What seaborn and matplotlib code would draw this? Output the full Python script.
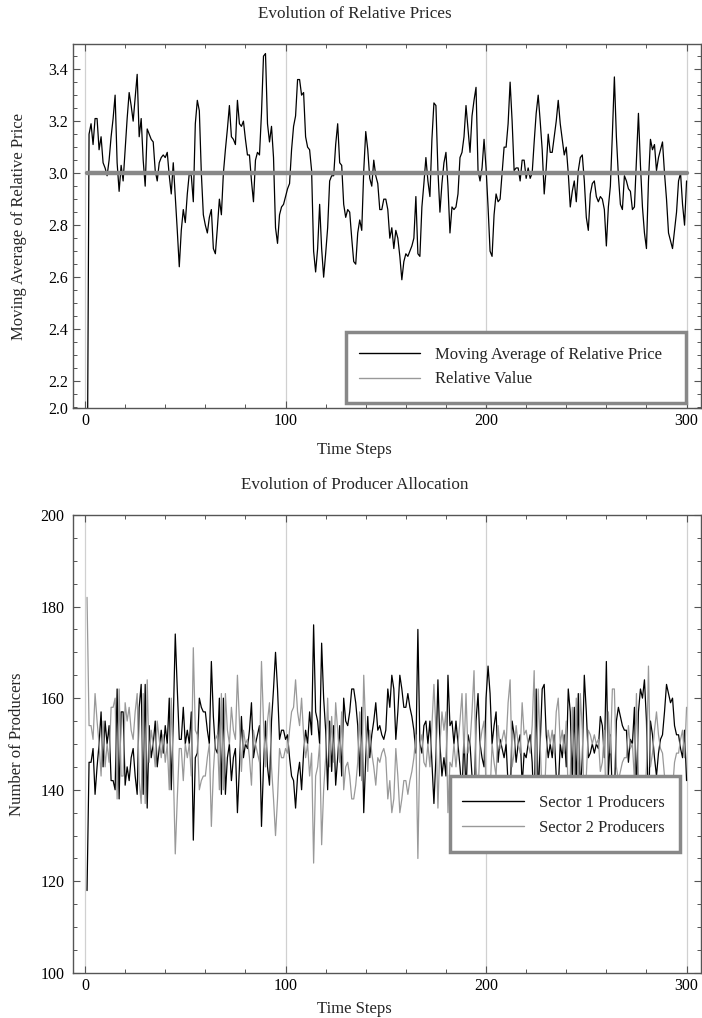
import numpy as np
import pandas as pd
import seaborn as sns
import matplotlib.pyplot as plt
from matplotlib.lines import Line2D
from matplotlib.patches import Rectangle
from matplotlib.ticker import MultipleLocator

# moving average of relative price, time steps 1..300
price = [1.60, 3.15, 3.19, 3.11, 3.21, 3.21, 3.09, 3.14, 3.04, 3.02,
         2.99, 3.05, 3.14, 3.21, 3.30, 3.04, 2.93, 3.03, 2.97, 3.09,
         3.21, 3.31, 3.26, 3.20, 3.29, 3.38, 3.14, 3.21, 3.05, 2.95,
         3.17, 3.15, 3.13, 3.12, 3.01, 2.97, 3.04, 3.06, 3.07, 3.06,
         3.08, 2.99, 2.92, 3.04, 2.91, 2.78, 2.64, 2.78, 2.86, 2.81,
         2.92, 3.00, 2.99, 2.89, 3.19, 3.28, 3.24, 3.00, 2.84, 2.80,
         2.77, 2.83, 2.86, 2.71, 2.69, 2.79, 2.90, 2.84, 3.00, 3.09,
         3.17, 3.26, 3.14, 3.13, 3.11, 3.28, 3.19, 3.18, 3.20, 3.13,
         3.07, 3.07, 2.97, 2.89, 3.05, 3.08, 3.07, 3.23, 3.45, 3.46,
         3.19, 3.12, 3.18, 3.06, 2.79, 2.73, 2.84, 2.87, 2.88, 2.91,
         2.94, 2.96, 3.09, 3.18, 3.22, 3.36, 3.36, 3.30, 3.31, 3.14,
         3.10, 3.09, 3.01, 2.70, 2.62, 2.71, 2.88, 2.71, 2.60, 2.69,
         2.79, 2.97, 2.99, 2.99, 3.11, 3.19, 3.04, 3.03, 2.88, 2.83,
         2.86, 2.85, 2.75, 2.66, 2.65, 2.77, 2.82, 2.78, 3.01, 3.16,
         3.09, 2.98, 2.95, 3.05, 2.99, 2.96, 2.86, 2.86, 2.90, 2.90,
         2.86, 2.75, 2.79, 2.71, 2.78, 2.75, 2.68, 2.59, 2.66, 2.69,
         2.68, 2.70, 2.72, 2.75, 2.91, 2.69, 2.68, 2.87, 2.96, 3.06,
         2.97, 2.91, 3.13, 3.27, 3.26, 3.01, 2.85, 2.96, 3.04, 3.08,
         2.95, 2.77, 2.87, 2.86, 2.87, 2.92, 3.06, 3.08, 3.14, 3.26,
         3.17, 3.08, 3.22, 3.28, 3.33, 3.01, 2.97, 3.02, 3.13, 3.02,
         2.87, 2.70, 2.68, 2.84, 2.92, 2.89, 2.90, 3.00, 3.10, 3.10,
         3.19, 3.35, 3.20, 3.01, 3.02, 3.02, 2.97, 3.05, 3.05, 2.98,
         3.02, 2.98, 3.00, 3.12, 3.23, 3.30, 3.20, 3.09, 2.92, 3.02,
         3.15, 3.08, 3.08, 3.14, 3.20, 3.28, 3.19, 3.13, 3.07, 3.10,
         3.00, 2.87, 2.93, 2.97, 2.89, 3.01, 3.06, 3.07, 2.97, 2.83,
         2.78, 2.92, 2.96, 2.97, 2.91, 2.89, 2.91, 2.90, 2.86, 2.72,
         2.87, 2.95, 3.15, 3.37, 3.14, 2.99, 2.88, 2.86, 2.99, 2.97,
         2.94, 2.93, 2.86, 2.87, 3.05, 3.23, 3.03, 2.87, 2.77, 2.71,
         2.97, 3.13, 3.09, 3.11, 3.01, 3.06, 3.09, 3.12, 3.00, 2.90,
         2.77, 2.74, 2.71, 2.78, 2.85, 2.97, 3.00, 2.88, 2.80, 2.97]

relative_value = [3.0] * len(price)

sector1 = [118, 146, 146, 149, 139, 145, 150, 157, 145, 155,
           150, 154, 142, 142, 140, 162, 138, 157, 157, 141,
           145, 142, 147, 149, 143, 139, 158, 163, 139, 163,
           136, 154, 147, 150, 155, 145, 149, 153, 148, 154,
           150, 160, 140, 155, 174, 162, 151, 151, 158, 150,
           153, 150, 157, 129, 147, 148, 160, 158, 157, 157,
           153, 150, 168, 156, 149, 148, 160, 139, 160, 139,
           147, 150, 142, 147, 149, 135, 145, 156, 147, 150,
           149, 153, 159, 147, 150, 152, 154, 132, 145, 155,
           145, 141, 155, 162, 170, 162, 151, 153, 153, 151,
           152, 147, 143, 142, 136, 143, 146, 140, 148, 153,
           150, 157, 152, 176, 157, 155, 150, 172, 160, 153,
           140, 155, 144, 154, 141, 147, 154, 143, 160, 155,
           154, 157, 162, 162, 159, 154, 143, 158, 135, 147,
           156, 147, 152, 155, 159, 153, 154, 152, 151, 153,
           162, 158, 165, 162, 151, 157, 165, 162, 158, 158,
           161, 158, 156, 153, 148, 175, 150, 148, 154, 155,
           150, 155, 146, 137, 147, 164, 150, 143, 147, 143,
           165, 154, 155, 150, 155, 150, 145, 139, 152, 139,
           152, 150, 143, 134, 155, 161, 150, 147, 145, 160,
           167, 161, 150, 154, 157, 146, 151, 149, 147, 150,
           141, 136, 155, 152, 146, 150, 152, 141, 148, 147,
           150, 152, 146, 134, 162, 138, 150, 162, 163, 152,
           147, 150, 147, 152, 143, 140, 150, 147, 152, 145,
           162, 157, 142, 158, 140, 161, 139, 147, 165, 157,
           147, 148, 150, 148, 150, 149, 156, 154, 147, 168,
           143, 152, 138, 138, 155, 158, 156, 154, 153, 153,
           146, 151, 150, 158, 139, 157, 162, 160, 164, 155,
           133, 155, 152, 147, 143, 148, 151, 152, 157, 163,
           161, 159, 160, 154, 152, 152, 149, 147, 153, 142]

sector2 = [182, 154, 154, 151, 161, 155, 150, 143, 155, 145,
           150, 146, 158, 158, 160, 138, 162, 143, 143, 159,
           155, 158, 153, 151, 157, 161, 142, 137, 161, 137,
           164, 146, 153, 150, 145, 155, 151, 147, 152, 146,
           150, 140, 160, 145, 126, 138, 149, 149, 142, 150,
           147, 150, 143, 171, 153, 152, 140, 142, 143, 143,
           147, 150, 132, 144, 151, 152, 140, 161, 140, 161,
           153, 150, 158, 153, 151, 165, 155, 144, 153, 150,
           151, 147, 141, 153, 150, 148, 146, 168, 155, 145,
           155, 159, 145, 138, 130, 138, 149, 147, 147, 149,
           148, 153, 157, 158, 164, 157, 154, 160, 152, 147,
           150, 143, 148, 124, 143, 145, 150, 128, 140, 147,
           160, 145, 156, 146, 159, 153, 146, 157, 140, 145,
           146, 143, 138, 138, 141, 146, 157, 142, 165, 153,
           144, 153, 148, 145, 141, 147, 146, 148, 149, 147,
           138, 142, 135, 138, 149, 143, 135, 138, 142, 142,
           139, 142, 144, 147, 152, 125, 150, 152, 146, 145,
           150, 145, 154, 163, 153, 136, 150, 157, 153, 157,
           135, 146, 145, 150, 145, 150, 155, 161, 148, 161,
           148, 150, 157, 166, 145, 139, 150, 153, 155, 140,
           133, 139, 150, 146, 143, 154, 149, 151, 153, 150,
           159, 164, 145, 148, 154, 150, 148, 159, 152, 153,
           150, 148, 154, 166, 138, 162, 150, 138, 137, 148,
           153, 150, 153, 148, 157, 160, 150, 153, 148, 155,
           138, 143, 158, 142, 160, 139, 161, 153, 135, 143,
           153, 152, 150, 152, 150, 151, 144, 146, 153, 132,
           157, 148, 162, 162, 145, 142, 144, 146, 147, 147,
           154, 149, 150, 142, 161, 143, 138, 140, 136, 145,
           167, 145, 148, 153, 157, 152, 149, 148, 143, 137,
           139, 141, 140, 146, 148, 148, 151, 153, 147, 158]

price_ticks = [2.2, 2.4, 2.6, 2.8, 3.0, 3.2, 3.4]

steps = np.arange(1, len(price) + 1)
df_price = pd.DataFrame({'step': steps, 'price': price, 'value': relative_value})
df_prod = pd.DataFrame({'step': np.arange(1, len(sector1) + 1),
                        'sector1': sector1, 'sector2': sector2})

sns.set_style('ticks')
plt.rcParams['font.family'] = ['Liberation Serif', 'DejaVu Serif']

fig = plt.figure(figsize=(7.02, 10.18), dpi=100)
ax1 = fig.add_axes([0.104, 0.599, 0.894, 0.3576])
ax2 = fig.add_axes([0.104, 0.0442, 0.894, 0.45])


def frame(ax):
    ax.set_xlim(-6, 307)
    ax.xaxis.set_major_locator(MultipleLocator(100))
    ax.xaxis.set_minor_locator(MultipleLocator(20))
    for g in (0, 100, 200, 300):
        ax.axvline(g, color='#d0d0d0', lw=0.9, zorder=0)
    ax.tick_params(which='both', direction='in', top=True, right=True,
                   color='#555555', labelcolor='black', labelsize=11.5)
    ax.tick_params(which='major', length=5, width=0.8)
    ax.tick_params(which='minor', length=3, width=0.7)
    for s in ax.spines.values():
        s.set_color('#555555')
        s.set_linewidth(1.0)


def legend_box(ax, box, anchor, labels, hlen):
    ax.add_patch(Rectangle(box[:2], box[2], box[3], transform=ax.transAxes,
                           facecolor='white', edgecolor='#888888', lw=2.5, zorder=5))
    handles = [Line2D([], [], color='black', lw=1), Line2D([], [], color='#999999', lw=1)]
    leg = ax.legend(handles, labels, loc='upper left', bbox_to_anchor=anchor,
                    frameon=False, borderpad=0, borderaxespad=0, fontsize=12,
                    handlelength=hlen, handletextpad=0.9, labelspacing=0.5)
    leg.set_zorder(6)


# top panel
frame(ax1)
sns.lineplot(data=df_price, x='step', y='price', color='black', lw=0.9, ax=ax1)
sns.lineplot(data=df_price, x='step', y='value', color='#888888', lw=3.2, ax=ax1)
ax1.set_ylim(2.096, 3.496)
ax1.set_yticks([2.096] + price_ticks)
ax1.set_yticklabels(['2.0'] + ['%.1f' % v for v in price_ticks])
ax1.yaxis.set_minor_locator(MultipleLocator(0.05))
ax1.set_title('Evolution of Relative Prices', fontsize=12.3, pad=19, x=0.449)
ax1.set_xlabel('Time Steps', fontsize=12, labelpad=9, x=0.449)
ax1.set_ylabel('Moving Average of Relative Price', fontsize=12, labelpad=15)
legend_box(ax1, (0.435, 0.014, 0.542, 0.195), (0.456, 0.168),
           ['Moving Average of Relative Price', 'Relative Value'], 3.65)

# bottom panel
frame(ax2)
sns.lineplot(data=df_prod, x='step', y='sector1', color='black', lw=0.9, ax=ax2)
sns.lineplot(data=df_prod, x='step', y='sector2', color='#999999', lw=0.9, ax=ax2)
ax2.set_ylim(100, 200)
ax2.yaxis.set_major_locator(MultipleLocator(20))
ax2.yaxis.set_minor_locator(MultipleLocator(5))
ax2.tick_params(axis='y', pad=6)
ax2.set_title('Evolution of Producer Allocation', fontsize=12.3, pad=19, x=0.449)
ax2.set_xlabel('Time Steps', fontsize=12, labelpad=5, x=0.449)
ax2.set_ylabel('Number of Producers', fontsize=12, labelpad=11)
legend_box(ax2, (0.601, 0.264, 0.366, 0.166), (0.620, 0.388),
           ['Sector 1 Producers', 'Sector 2 Producers'], 3.7)

fig.savefig('out.png', dpi=100)
